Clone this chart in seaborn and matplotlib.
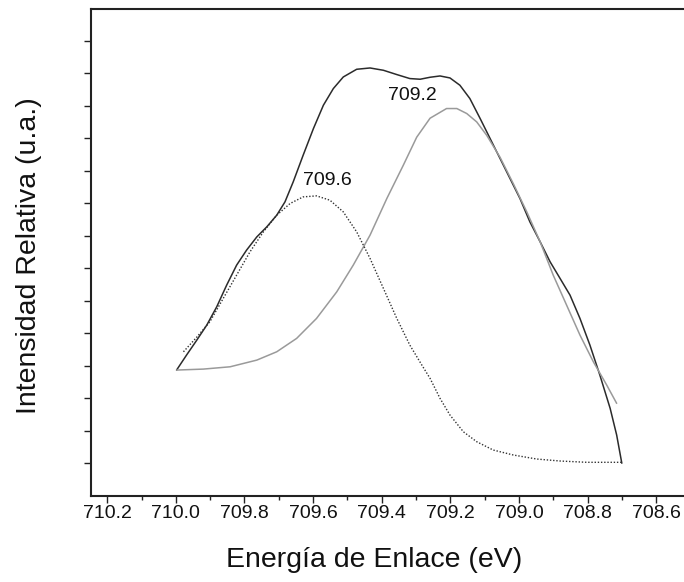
import numpy as np
import pandas as pd
import matplotlib
matplotlib.use("Agg")
import matplotlib.pyplot as plt
import seaborn as sns

# ---- data ----
env_x = [709.998, 709.969, 709.939, 709.910, 709.881, 709.852, 709.823, 709.794, 709.764,
         709.735, 709.706, 709.682, 709.658, 709.629, 709.599, 709.570, 709.541, 709.512,
         709.473, 709.434, 709.395, 709.356, 709.318, 709.288, 709.259, 709.230, 709.201,
         709.172, 709.143, 709.113, 709.084, 709.055, 709.026, 708.997, 708.968, 708.938,
         708.909, 708.880, 708.851, 708.822, 708.793, 708.764, 708.734, 708.715, 708.700]
env_y = [3.868, 4.329, 4.791, 5.252, 5.815, 6.483, 7.098, 7.560, 7.969,
         8.277, 8.637, 9.046, 9.662, 10.483, 11.305, 12.022, 12.535, 12.892,
         13.129, 13.169, 13.098, 12.966, 12.843, 12.822, 12.883, 12.923, 12.862,
         12.637, 12.228, 11.612, 10.997, 10.382, 9.766, 9.151, 8.431, 7.815,
         7.200, 6.689, 6.175, 5.458, 4.637, 3.714, 2.689, 1.868, 1.000]

p2_x = [709.998, 709.920, 709.842, 709.764, 709.706, 709.648, 709.590, 709.531, 709.483,
        709.434, 709.385, 709.337, 709.298, 709.259, 709.211, 709.181, 709.152, 709.123,
        709.094, 709.055, 709.016, 708.977, 708.938, 708.900, 708.861, 708.822, 708.783,
        708.744, 708.715]
p2_y = [3.868, 3.898, 3.969, 4.175, 4.431, 4.843, 5.458, 6.277, 7.098,
        8.022, 9.151, 10.175, 11.037, 11.622, 11.920, 11.920, 11.766, 11.508,
        11.098, 10.420, 9.600, 8.738, 7.815, 6.791, 5.868, 4.945, 4.123,
        3.406, 2.843]

p1_x = [709.978, 709.939, 709.901, 709.862, 709.823, 709.784, 709.745, 709.706, 709.667,
        709.629, 709.590, 709.551, 709.512, 709.473, 709.434, 709.395, 709.356, 709.318,
        709.283, 709.259, 709.230, 709.201, 709.162, 709.123, 709.075, 709.016, 708.948,
        708.880, 708.802, 708.700]
p1_y = [4.431, 4.883, 5.354, 6.074, 6.791, 7.508, 8.123, 8.637, 8.997,
        9.200, 9.231, 9.098, 8.738, 8.123, 7.305, 6.382, 5.458, 4.637,
        4.022, 3.612, 2.997, 2.483, 1.969, 1.662, 1.406, 1.252, 1.129,
        1.068, 1.028, 1.028]

peak_labels = ["709.2", "709.6"]
peak_label_x = [709.312, 709.557]
peak_label_y = [12.33, 9.71]

x_ticks = [710.2, 710.0, 709.8, 709.6, 709.4, 709.2, 709.0, 708.8, 708.6]
x_tick_labels = ["710.2", "710.0", "709.8", "709.6", "709.4", "709.2", "709.0", "708.8", "708.6"]
x_minor = [710.1, 709.9, 709.7, 709.5, 709.3, 709.1, 708.9, 708.7]
y_ticks = list(range(1, 15))

xlabel = "Energía de Enlace (eV)"
ylabel = "Intensidad Relativa (u.a.)"

# ---- plotting ----
sns.set_theme(style="ticks")
plt.rcParams['font.family'] = ['Liberation Sans', 'DejaVu Sans']

fig = plt.figure(figsize=(6.84, 5.82), dpi=100)
ax = fig.add_axes([91 / 684, 1 - 495.7 / 582, 1 - 91 / 684, (495.7 - 8.5) / 582])

df_env = pd.DataFrame({"x": env_x, "y": env_y})
df_p2 = pd.DataFrame({"x": p2_x, "y": p2_y})
df_p1 = pd.DataFrame({"x": p1_x, "y": p1_y})

sns.lineplot(data=df_env, x="x", y="y", ax=ax, color="#2b2b2b", lw=1.1, sort=False, estimator=None)
sns.lineplot(data=df_p2, x="x", y="y", ax=ax, color="#9a9a9a", lw=1.1, sort=False, estimator=None)
sns.lineplot(data=df_p1, x="x", y="y", ax=ax, color="#333333", lw=1.0, ls=(0, (1, 1.3)),
             sort=False, estimator=None)

for t, tx, ty in zip(peak_labels, peak_label_x, peak_label_y):
    ax.text(tx, ty, t, ha="center", va="center", fontsize=14, color="#111111")

ax.set_xlim(710.2475, 708.5187)
ax.set_ylim(0, 15)
ax.set_xticks(x_ticks)
ax.set_xticklabels(x_tick_labels)
ax.set_xticks(x_minor, minor=True)
ax.set_yticks(y_ticks)
ax.set_yticklabels([])

ax.tick_params(axis="x", which="major", direction="out", length=5, width=1, pad=2,
               labelsize=14, colors="#222222", labelcolor="#111111")
ax.tick_params(axis="x", which="minor", direction="out", length=3, width=1, colors="#222222")
ax.tick_params(axis="y", which="major", direction="out", length=5, width=1, colors="#222222")

for s in ["left", "bottom", "top"]:
    ax.spines[s].set_visible(True)
    ax.spines[s].set_color("#222222")
    ax.spines[s].set_linewidth(1.5)
ax.spines["right"].set_visible(False)

ax.set_xlabel(xlabel, fontsize=20.5, color="#111111")
ax.set_ylabel(ylabel, fontsize=20.5, color="#111111")
ax.xaxis.set_label_coords(374 / 684, 1 - 560 / 582, transform=fig.transFigure)
ax.yaxis.set_label_coords(29 / 684, 1 - 256 / 582, transform=fig.transFigure)
ax.xaxis.label.set_va("center")
ax.yaxis.label.set_va("center")

fig.savefig("out.png", dpi=100)
